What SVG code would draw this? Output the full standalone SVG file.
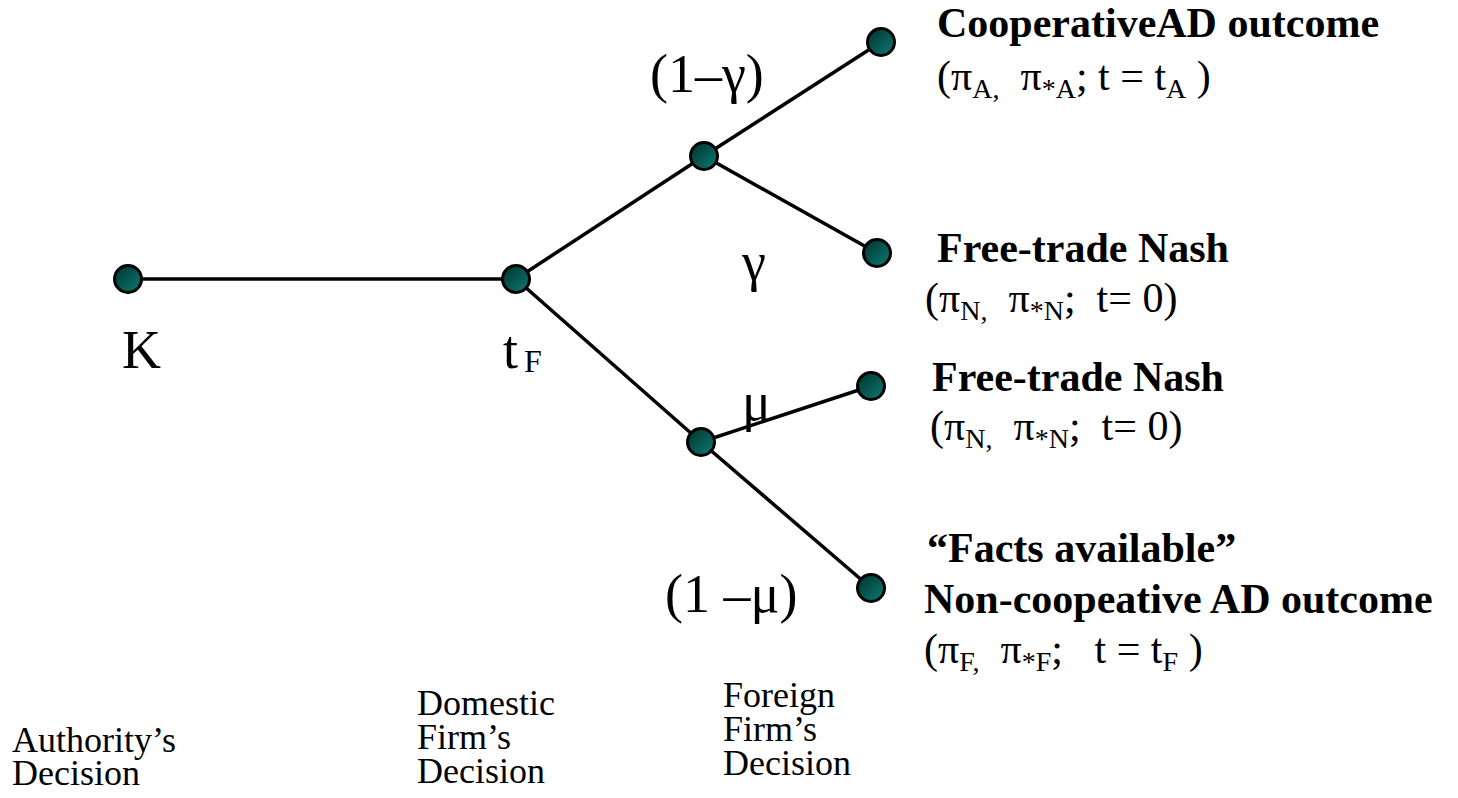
<svg xmlns="http://www.w3.org/2000/svg" width="1458" height="798" viewBox="0 0 1458 798">
<defs>
<linearGradient id="g" x1="0" y1="0" x2="1" y2="1">
<stop offset="0" stop-color="#00302d"/>
<stop offset="1" stop-color="#0d7d74"/>
</linearGradient>
<style>
.n{fill:url(#g);stroke:#000;stroke-width:3}
.e{stroke:#000;stroke-width:3.5;fill:none}
text{font-family:'Liberation Serif','Times New Roman',serif;fill:#000}
.b{font-weight:bold;font-size:42px}
.f{font-size:42px}
.s{font-size:28px}
.l{font-size:36px}
.g{font-size:54px}
</style>
</defs>
<rect width="1458" height="798" fill="#fff"/>
<g id="connectors">
<line class="e" x1="128" y1="279" x2="516" y2="279"/>
<line class="e" x1="516" y1="279" x2="704" y2="156"/>
<line class="e" x1="704" y1="156" x2="881" y2="42"/>
<line class="e" x1="704" y1="156" x2="877" y2="253"/>
<line class="e" x1="516" y1="279" x2="701" y2="442"/>
<line class="e" x1="701" y1="442" x2="871" y2="386"/>
<line class="e" x1="701" y1="442" x2="871" y2="588"/>
</g>
<g id="node-K"><circle class="n" cx="128" cy="279" r="13.5"/><text class="g" x="122" y="368">K</text></g>
<g id="node-tF"><circle class="n" cx="516" cy="279" r="13.5"/><text class="g" x="503" y="368">t<tspan font-size="32" dx="6" dy="4">F</tspan></text></g>
<g id="node-foreign-upper"><circle class="n" cx="704" cy="156" r="13.5"/></g>
<g id="node-foreign-lower"><circle class="n" cx="701" cy="442" r="13.5"/></g>
<g id="node-coop"><circle class="n" cx="881" cy="42" r="13.5"/>
<text class="b" x="937" y="37">CooperativeAD outcome</text>
<text class="f" x="937" y="90" xml:space="preserve">(π<tspan class="s" dy="8">A,</tspan><tspan dy="-8">  π</tspan><tspan class="s" dy="8">*A</tspan><tspan dy="-8">; t = t</tspan><tspan class="s" dy="8">A</tspan><tspan dy="-8"> )</tspan></text>
</g>
<g id="node-nash1"><circle class="n" cx="877" cy="253" r="13.5"/>
<text class="b" x="937" y="262">Free-trade Nash</text>
<text class="f" x="925" y="312" xml:space="preserve">(π<tspan class="s" dy="8">N,</tspan><tspan dy="-8">  π</tspan><tspan class="s" dy="8">*N</tspan><tspan dy="-8">;  t= 0)</tspan></text>
</g>
<g id="node-nash2"><circle class="n" cx="871" cy="386" r="13.5"/>
<text class="b" x="932" y="391">Free-trade Nash</text>
<text class="f" x="930" y="440" xml:space="preserve">(π<tspan class="s" dy="8">N,</tspan><tspan dy="-8">  π</tspan><tspan class="s" dy="8">*N</tspan><tspan dy="-8">;  t= 0)</tspan></text>
</g>
<g id="node-facts"><circle class="n" cx="871" cy="588" r="13.5"/>
<text class="b" x="927" y="562">“Facts available”</text>
<text class="b" x="924" y="613">Non-coopeative AD outcome</text>
<text class="f" x="924" y="663" xml:space="preserve">(π<tspan class="s" dy="8">F,</tspan><tspan dy="-8">  π</tspan><tspan class="s" dy="8">*F</tspan><tspan dy="-8">;   t = t</tspan><tspan class="s" dy="8">F</tspan><tspan dy="-8"> )</tspan></text>
</g>
<g id="edge-labels">
<text class="g" x="650" y="92">(1–γ)</text>
<text class="g" x="742" y="280">γ</text>
<text class="g" x="742" y="420">μ</text>
<text class="g" x="665" y="612">(1 –μ)</text>
</g>
<g id="stage-labels">
<text class="l" x="12" y="752">Authority’s</text>
<text class="l" x="12" y="785">Decision</text>
<text class="l" x="417" y="715">Domestic</text>
<text class="l" x="417" y="749">Firm’s</text>
<text class="l" x="417" y="783">Decision</text>
<text class="l" x="723" y="707">Foreign</text>
<text class="l" x="723" y="741">Firm’s</text>
<text class="l" x="723" y="775">Decision</text>
</g>
</svg>
